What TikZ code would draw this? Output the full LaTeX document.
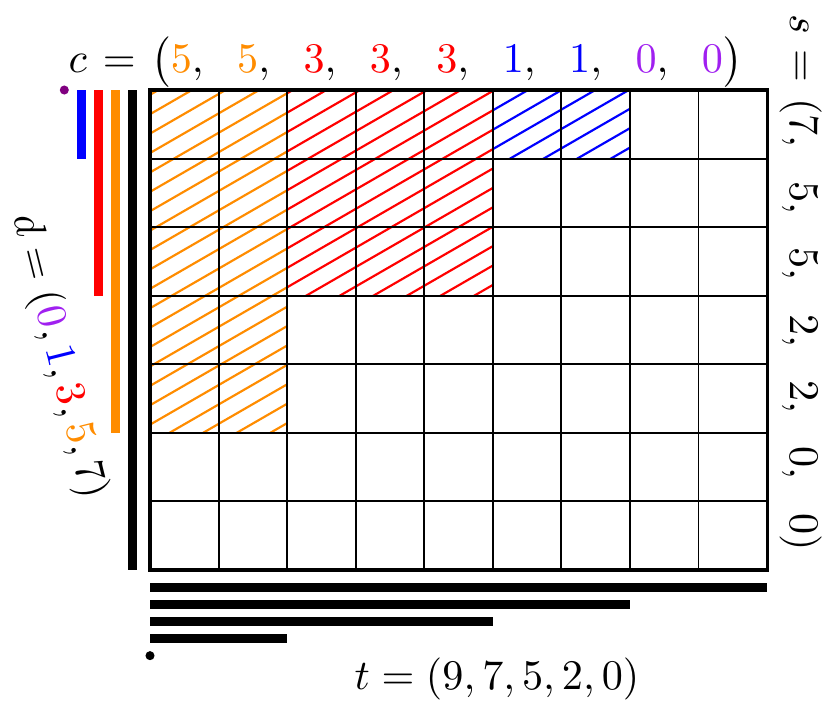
\documentclass[tikz,border=0pt]{standalone}
\usepackage{xcolor}
\usepackage{tikz}
\usetikzlibrary{positioning}
\definecolor{cellorange}{RGB}{255,140,0}
\definecolor{cellred}{RGB}{255,0,0}
\definecolor{cellblue}{RGB}{0,0,255}
\definecolor{cellpurple}{RGB}{160,32,240}
\definecolor{dotpurple}{RGB}{128,0,128}

\begin{document}
\begin{tikzpicture}[
  lbl/.style={inner sep=0pt, font=\fontsize{10}{12}\selectfont, scale=1.75, transform shape},
  bar/.style={line width=3.7pt},
  hatch/.style={line width=0.9pt}]
\useasboundingbox (-2.188,1.313) rectangle (9.991,-9.029);
\def\cgap{\hspace{0.63em}}
\def\pgap{\hspace{0.1em}}

% Hatched cells: columns x0..x1, depth h
\foreach \xa/\xb/\h/\col in {0/2/5/cellorange, 2/5/3/cellred, 5/7/1/cellblue}{
  \begin{scope}
    \clip (\xa,0) rectangle (\xb,-\h);
    \foreach \k [evaluate=\k as \y using -0.07-0.283*\k] in {0,...,44}{
      \draw[hatch,\col] (0,\y) ++(210:2) -- ++(30:16);
    }
  \end{scope}
}

% Grid
\draw[line width=0.8pt] (0,-7) grid (9,0);
\draw[line width=1.3pt] (0,0) rectangle (9,-7);

% Column lengths d (left)
\fill[dotpurple] (-1.25,0) circle (0.066);
\foreach \len/\col/\i in {1/cellblue/1, 3/cellred/2, 5/cellorange/3, 7/black/4}{
  \draw[bar,\col] (-1.25+0.25*\i,0) -- ++(0,-\len);
}

% Row lengths t (bottom)
\foreach \len/\i in {9/1, 7/2, 5/3, 2/4}{
  \draw[bar] (0,-7-0.25*\i) -- ++(\len,0);
}
\fill (0,-8.25) circle (0.066);

% Labels
\node[lbl, anchor=base west] (clabel) at (-1.20,0.26)
  {$c \pgap=\pgap \bigl(\textcolor{cellorange}{5},\cgap\textcolor{cellorange}{5},\cgap
   \textcolor{cellred}{3},\cgap\textcolor{cellred}{3},\cgap\textcolor{cellred}{3},\cgap
   \textcolor{cellblue}{1},\cgap\textcolor{cellblue}{1},\cgap
   \textcolor{cellpurple}{0},\cgap\textcolor{cellpurple}{0}\bigr)$};
\node[lbl, rotate=-90, anchor=base west] (slabel) at (9.335,1.12)
  {$s \pgap=\pgap (7,\cgap 5,\cgap 5,\cgap 2,\cgap 2,\cgap 0,\cgap 0)$};
\node[lbl, rotate=-76, anchor=base west] (dlabel) at (-1.998,-1.852)
  {$d = (\textcolor{cellpurple}{0},\textcolor{cellblue}{1},\textcolor{cellred}{3},\textcolor{cellorange}{5},7)$};
\node[lbl, anchor=base] (tlabel) at (5.06,-8.75)
  {$t = (9,7,5,2,0)$};
\end{tikzpicture}
\end{document}
